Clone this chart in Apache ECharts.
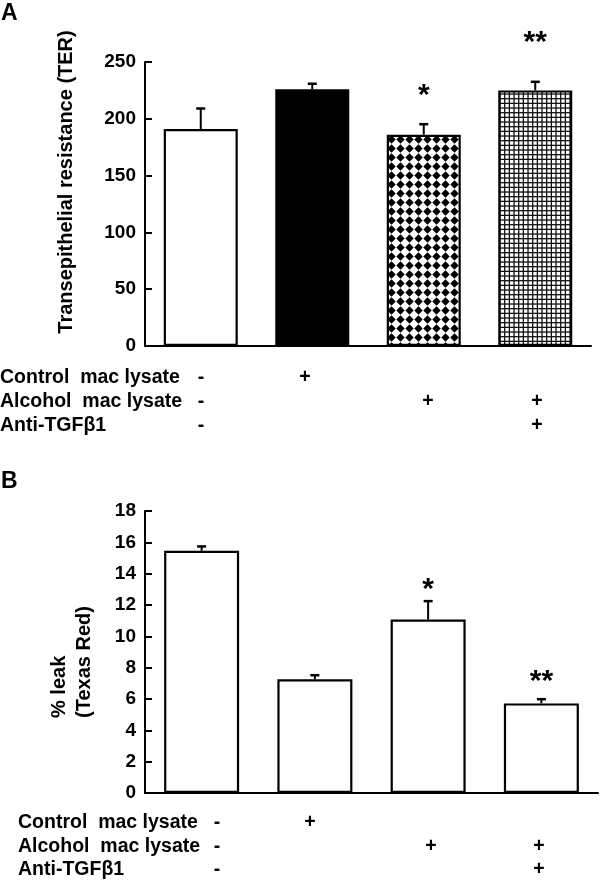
<!DOCTYPE html>
<html><head><meta charset="utf-8">
<script src="https://cdn.jsdelivr.net/npm/echarts@6/dist/echarts.min.js"></script>
<style>html,body{margin:0;padding:0;background:#fff}#c{width:600px;height:881px}</style>
</head><body><div id="c"></div>
<script>
// ---------- data ----------
const categories = ['None', 'Control mac lysate', 'Alcohol mac lysate', 'Alcohol mac lysate + Anti-TGFβ1'];
const terMean = [191, 226, 186, 225];
const terSem = [18.5, 5.3, 9.7, 8];
const terStars = ['', '', '*', '**'];
const terStarAt = [null, null, 220, 267];
const terTicks = [0, 50, 100, 150, 200, 250];
const leakMean = [15.46, 7.26, 11.07, 5.72];
const leakSem = [0.31, 0.29, 1.21, 0.30];
const leakStars = ['', '', '*', '**'];
const leakStarAt = [null, null, 12.95, 7.1];
const leakTicks = [0, 2, 4, 6, 8, 10, 12, 14, 16, 18];
const rowLabels = ['Control  mac lysate', 'Alcohol  mac lysate', 'Anti-TGFβ1'];
const rowSigns = [['-', '+', '', ''], ['-', '', '+', '+'], ['-', '', '', '+']];
const panelLetters = ['A', 'B'];
const terTitle = 'Transepithelial resistance (TER)';
const leakTitle = ['% leak', '(Texas Red)'];

// ---------- styles ----------
const FONT = '"Liberation Sans", Arial, Helvetica, sans-serif';

function diamondPattern() {
  const c = document.createElement('canvas');
  c.width = 9; c.height = 9;
  const g = c.getContext('2d');
  g.fillStyle = '#fff'; g.fillRect(0, 0, 9, 9);
  g.fillStyle = '#000';
  g.beginPath();
  g.moveTo(4.5, 0.3); g.lineTo(8.7, 4.5); g.lineTo(4.5, 8.7); g.lineTo(0.3, 4.5); g.closePath();
  g.fill();
  return c;
}
function gridPattern() {
  const s = 14;
  const c = document.createElement('canvas');
  c.width = s; c.height = s;
  const g = c.getContext('2d');
  g.fillStyle = '#fff'; g.fillRect(0, 0, s, s);
  g.strokeStyle = '#111'; g.lineWidth = 1.3;
  for (let k = 0; k < 3; k++) {
    const p = k * s / 3 + 0.7;
    g.beginPath(); g.moveTo(p, 0); g.lineTo(p, s); g.stroke();
    g.beginPath(); g.moveTo(0, p); g.lineTo(s, p); g.stroke();
  }
  return c;
}
const fillsA = ['#ffffff', '#000000', { image: diamondPattern(), repeat: 'repeat' }, { image: gridPattern(), repeat: 'repeat' }];
const fillsB = ['#ffffff', '#ffffff', '#ffffff', '#ffffff'];

const chart = echarts.init(document.getElementById('c'), null, { renderer: 'canvas' });

function yAxisFor(gridIndex, ticks) {
  return {
    type: 'value', gridIndex,
    min: ticks[0], max: ticks[ticks.length - 1], interval: ticks[1] - ticks[0],
    axisLine: { show: true, lineStyle: { color: '#000', width: 2 } },
    axisTick: { show: true, inside: true, length: 7, lineStyle: { color: '#000', width: 2 } },
    axisLabel: { color: '#000', fontFamily: FONT, fontWeight: 'bold', fontSize: 19, margin: 9 },
    splitLine: { show: false }
  };
}
function xAxisFor(gridIndex) {
  return {
    type: 'category', gridIndex, data: categories,
    axisLine: { show: true, lineStyle: { color: '#000', width: 2 } },
    axisTick: { show: false }, axisLabel: { show: false }
  };
}
function errSeries(idx, mean, sem) {
  return {
    type: 'custom', xAxisIndex: idx, yAxisIndex: idx, clip: false, z: 5,
    data: mean.map((m, i) => [i, m, sem[i]]),
    renderItem(params, api) {
      const x = api.value(0), m = api.value(1), s = api.value(2);
      const p0 = api.coord([x, m]);
      const p1 = api.coord([x, m + s]);
      return {
        type: 'group', children: [
          { type: 'line', shape: { x1: p0[0], y1: p0[1], x2: p1[0], y2: p1[1] }, style: { stroke: '#000', lineWidth: 2 } },
          { type: 'line', shape: { x1: p1[0] - 4.5, y1: p1[1] + 0.5, x2: p1[0] + 4.5, y2: p1[1] + 0.5 }, style: { stroke: '#000', lineWidth: 2.5 } }
        ]
      };
    }
  };
}
function starSeries(idx, stars, at) {
  const list = stars.map((s, i) => [i, at[i], s]).filter(v => v[2] !== '');
  return {
    type: 'custom', xAxisIndex: idx, yAxisIndex: idx, clip: false, z: 6,
    data: list.map(v => [v[0], v[1]]),
    renderItem(params, api) {
      const item = list[params.dataIndex];
      const p = api.coord([item[0], item[1]]);
      return {
        type: 'text', x: p[0], y: p[1],
        style: { text: item[2], fill: '#000', font: 'bold 30px ' + FONT, textAlign: 'center', textVerticalAlign: 'middle' }
      };
    }
  };
}
function barSeries(idx, mean, fills, bw) {
  return {
    type: 'bar', xAxisIndex: idx, yAxisIndex: idx, barWidth: bw, z: 2,
    data: mean.map((v, i) => ({ value: v, itemStyle: { color: fills[i] } })),
    itemStyle: { borderColor: '#000', borderWidth: 2.2 },
    emphasis: { disabled: true }, animation: false
  };
}

// ---------- graphic text (titles, row table) ----------
const graphics = [];
function txt(x, y, text, size, align, extra) {
  graphics.push(Object.assign({
    type: 'text', x, y,
    style: { text, fill: '#000', font: 'bold ' + size + 'px ' + FONT, textAlign: align || 'left', textVerticalAlign: 'middle' }
  }, extra || {}));
}
txt(1, 14, panelLetters[0], 23);
txt(1, 482, panelLetters[1], 23);
txt(66, 182, terTitle, 20, 'center', { rotation: Math.PI / 2 });
txt(59, 718, leakTitle[0], 20, 'left', { rotation: Math.PI / 2 });
txt(84, 718, leakTitle[1], 20, 'left', { rotation: Math.PI / 2 });
const tableA = { labelX: 0, rowsY: [378, 402, 426], colX: [201, 305, 428, 537] };
const tableB = { labelX: 18, rowsY: [823, 847, 870], colX: [217, 310, 431, 539] };
[tableA, tableB].forEach(t => {
  rowLabels.forEach((lab, r) => {
    txt(t.labelX, t.rowsY[r], lab, 19.5, 'left');
    rowSigns[r].forEach((s, c) => { if (s) txt(t.colX[c], t.rowsY[r], s, 19.5, 'center'); });
  });
});

chart.setOption({
  animation: false,
  backgroundColor: '#fff',
  grid: [
    { left: 145, top: 62, width: 446, height: 284 },
    { left: 145, top: 511, width: 453, height: 282 }
  ],
  xAxis: [xAxisFor(0), xAxisFor(1)],
  yAxis: [yAxisFor(0, terTicks), yAxisFor(1, leakTicks)],
  series: [
    barSeries(0, terMean, fillsA, 74),
    errSeries(0, terMean, terSem),
    starSeries(0, terStars, terStarAt),
    barSeries(1, leakMean, fillsB, 75),
    errSeries(1, leakMean, leakSem),
    starSeries(1, leakStars, leakStarAt)
  ],
  graphic: graphics
});
</script></body></html>
